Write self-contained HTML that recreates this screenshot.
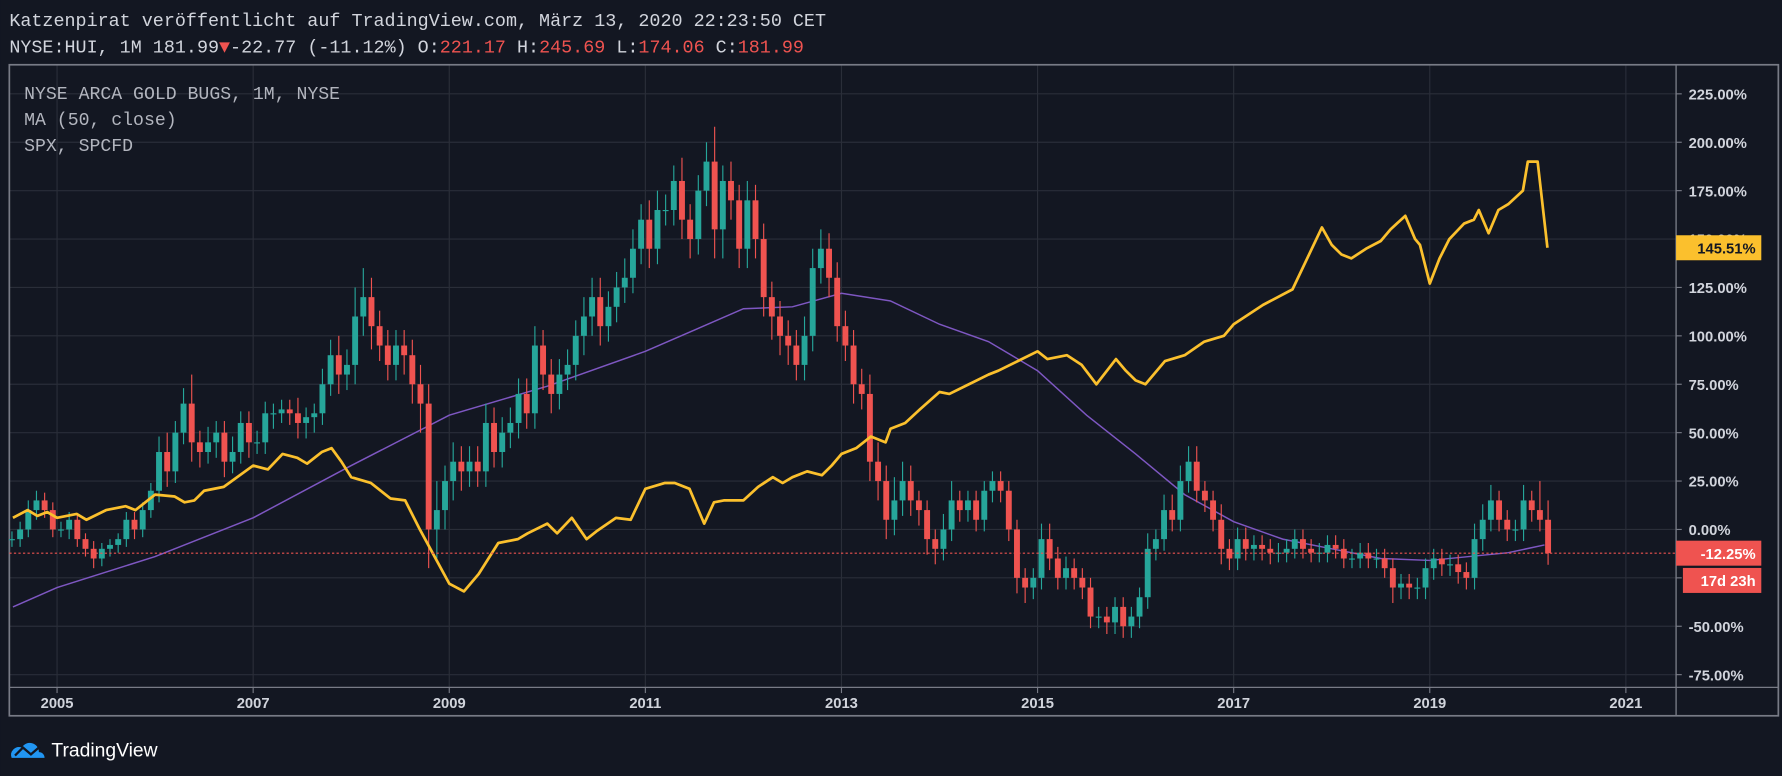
<!DOCTYPE html>
<html><head><meta charset="utf-8">
<style>
html,body{margin:0;padding:0;background:#131722;width:1782px;height:776px;overflow:hidden}
svg{display:block}
text{font-family:"Liberation Sans",sans-serif}
.mono{font-family:"Liberation Mono","DejaVu Sans Mono",monospace}
</style></head>
<body>
<svg id="chart" width="1782" height="776" viewBox="0 0 1568 683" xmlns="http://www.w3.org/2000/svg">
<rect x="0" y="0" width="1568" height="683" fill="#131722"/>
<g id="grid"></g>
<g id="marks"></g>
<text class="mono" x="8" y="23" font-size="16.2" fill="#d1d4dc">Katzenpirat veröffentlicht auf TradingView.com, März 13, 2020 22:23:50 CET</text>
<text class="mono" x="8" y="46" font-size="16.2" fill="#d1d4dc">NYSE:HUI, 1M 181.99<tspan fill="#ef5350">▼</tspan>-22.77 (-11.12%) O:<tspan fill="#ef5350">221.17</tspan> H:<tspan fill="#ef5350">245.69</tspan> L:<tspan fill="#ef5350">174.06</tspan> C:<tspan fill="#ef5350">181.99</tspan></text>
<text class="mono" x="21" y="87" font-size="16" fill="#b2b5be">NYSE ARCA GOLD BUGS, 1M, NYSE</text>
<text class="mono" x="21" y="110" font-size="16" fill="#b2b5be">MA (50, close)</text>
<text class="mono" x="21" y="133" font-size="16" fill="#b2b5be">SPX, SPCFD</text>
<g>
<path d="M10 667 a7 7 0 0 1 9 -9 a8 8 0 0 1 15 4 a5 5 0 0 1 5 5 z" fill="#2196f3"/>
<polyline points="13,665 20,658 27,664 35,657" fill="none" stroke="#131722" stroke-width="2"/>
<text x="45" y="666" font-size="17" fill="#ffffff">TradingView</text>
</g>
</svg>
<script>
const yearTicks=[2005,2007,2009,2011,2013,2015,2017,2019,2021];
const pctTicks=[225,200,175,150,125,100,75,50,25,0,-25,-50,-75];
const startYear=2004.5;
const closes=[
-5,0,10,15,10,0,
0,5,-5,-10,-15,-10,-8,-5,5,0,10,20,
40,30,50,65,45,40,45,50,35,40,55,45,
45,60,60,62,60,55,58,60,75,90,80,85,
110,120,105,95,85,95,90,75,65,0,10,25,
35,30,35,30,55,40,50,55,70,60,95,80,
70,80,85,100,110,120,105,115,125,130,145,160,
145,165,165,180,160,150,175,190,155,180,170,145,
170,150,120,110,100,95,85,100,135,145,130,105,
95,75,70,35,25,5,15,25,15,10,-5,-10,
0,15,10,15,5,20,25,20,0,-25,-30,-25,
-5,-15,-25,-20,-25,-30,-45,-45,-48,-40,-50,-45,
-35,-10,-5,10,5,25,35,20,15,5,-10,-15,
-5,-10,-8,-10,-12,-12,-10,-5,-10,-12,-12,-8,
-10,-15,-15,-12,-15,-15,-20,-30,-28,-30,-30,-20,
-15,-18,-18,-22,-25,-5,5,15,5,0,0,15,
10,5,-12.25];
const wickUp=[
4,4,5,5,4,4,
4,4,3,3,4,3,3,3,4,4,4,4,
8,10,6,8,15,6,8,6,6,8,6,6,
6,6,5,5,5,8,5,5,8,8,10,8,
15,15,10,8,8,8,8,8,10,10,15,8,
10,8,8,8,10,8,8,8,8,8,10,8,
8,8,8,8,10,10,10,8,8,10,10,8,
10,10,8,8,12,8,8,10,18,8,10,8,
10,8,8,8,8,8,8,10,10,10,8,8,
8,8,8,10,10,8,12,10,8,5,5,5,
8,10,5,5,5,5,5,5,5,5,5,5,
8,8,6,6,5,5,5,5,5,5,5,5,
5,8,5,8,8,8,8,8,5,5,8,5,
6,6,5,5,5,5,5,5,5,5,5,5,
5,5,5,5,5,5,5,5,5,5,5,5,
5,5,5,5,5,8,8,8,5,5,5,8,
5,15,10];
const wickDn=[
4,4,4,5,4,4,
4,5,4,4,5,4,4,4,4,5,4,4,
6,8,6,6,10,8,6,8,8,6,6,8,
6,6,8,5,6,8,8,8,6,6,10,8,
10,10,12,8,8,8,10,10,15,20,15,10,
10,10,8,8,8,8,8,8,8,8,8,8,
10,8,8,8,10,10,10,8,8,8,8,8,
10,8,8,8,10,10,8,8,15,15,10,10,
10,10,10,12,10,10,8,8,8,8,10,8,
8,10,8,10,10,10,8,8,8,8,8,8,
6,6,6,6,6,6,6,6,6,8,8,6,
6,6,6,6,6,6,6,6,6,6,6,6,
6,6,6,6,6,6,6,6,6,6,8,6,
6,6,6,6,6,5,5,5,5,5,5,5,
5,5,5,5,5,5,5,8,6,6,6,6,
6,6,6,6,6,6,6,6,6,6,6,6,
6,6,6];
const maT=[2004.55,2005,2006,2007,2008,2009,2010,2011,2011.5,2012,2012.5,2013,2013.5,2014,2014.5,2015,2015.5,2016,2016.5,2017,2017.5,2018,2018.5,2019,2019.4,2019.8,2020.17];
const maV=[-40,-30,-14,6,33,59,74,92,103,114,115,122,118,106,97,82,59,39,18,4,-5,-10,-15,-16,-14,-12,-8];
const spxT=[2004.55,2004.7,2004.8,2004.9,2005,2005.2,2005.3,2005.5,2005.7,2005.8,2006,2006.2,2006.3,2006.4,2006.5,2006.7,2007,2007.15,2007.3,2007.45,2007.55,2007.7,2007.8,2007.9,2008,2008.2,2008.3,2008.4,2008.55,2008.7,2008.85,2009,2009.15,2009.3,2009.5,2009.7,2009.8,2010,2010.1,2010.25,2010.4,2010.5,2010.7,2010.85,2011,2011.2,2011.3,2011.45,2011.6,2011.7,2011.8,2012,2012.15,2012.3,2012.4,2012.5,2012.65,2012.8,2012.9,2013,2013.15,2013.3,2013.45,2013.5,2013.65,2013.8,2014,2014.1,2014.3,2014.5,2014.6,2014.8,2015,2015.1,2015.3,2015.45,2015.6,2015.8,2015.9,2016,2016.1,2016.3,2016.5,2016.7,2016.9,2017,2017.3,2017.6,2017.9,2018,2018.1,2018.2,2018.35,2018.5,2018.6,2018.75,2018.85,2018.9,2019,2019.1,2019.2,2019.35,2019.45,2019.5,2019.6,2019.7,2019.8,2019.95,2020,2020.1,2020.2];
const spxV=[6,10,7,9,6,8,5,10,12,10,18,17,14,15,20,22,33,31,39,37,34,40,42,35,27,24,20,16,15,0,-14,-28,-32,-23,-7,-5,-2,3,-2,6,-5,-1,6,5,21,24,24,21,3,14,15,15,22,27,24,27,30,28,33,39,42,48,45,52,55,62,71,70,75,80,82,87,92,88,90,85,75,88,82,77,75,87,90,97,100,106,116,124,156,147,142,140,145,149,155,162,150,147,127,140,150,158,160,165,153,165,168,175,190,190,145.5];

const L=8,R=1475,T=57,B=605;
const x=t=>50+(t-2005)*86.3;
const y=v=>466-v*(42.6/25);
const NS="http://www.w3.org/2000/svg";
function mk(tag,attrs,parent){const e=document.createElementNS(NS,tag);for(const k in attrs)e.setAttribute(k,attrs[k]);parent.appendChild(e);return e;}
const svg=document.getElementById('chart');
const grid=document.getElementById('grid');
const marks=document.getElementById('marks');
pctTicks.forEach(p=>{
  const l=mk('line',{x1:L,x2:R,y1:y(p),y2:y(p),stroke:'#2a2e39','stroke-width':1},grid);
  
  
  mk('line',{x1:R,x2:R+5,y1:y(p),y2:y(p),stroke:'#787b86'},grid);
  const tx=mk('text',{x:R+11,y:y(p)+5,'font-size':13,fill:'#d1d4dc','font-weight':'bold'},grid);
  tx.textContent=p.toFixed(2)+'%';
  
  
});
yearTicks.forEach(yr=>{
  const l=mk('line',{x1:x(yr),x2:x(yr),y1:T,y2:B,stroke:'#2a2e39'},grid);
  
  
  mk('line',{x1:x(yr),x2:x(yr),y1:B,y2:B+5,stroke:'#787b86'},grid);
  const tx=mk('text',{x:x(yr),y:B+18,'font-size':13,fill:'#d1d4dc','font-weight':'bold','text-anchor':'middle'},grid);
  tx.textContent=yr;
  
  
});
const fr=mk('rect',{x:L,y:T,width:1565-L,height:630-T,fill:'none',stroke:'#787b86','stroke-width':1.5},grid);


mk('line',{x1:R,x2:R,y1:T,y2:630,stroke:'#787b86','stroke-width':1.2},grid);
mk('line',{x1:L,x2:1565,y1:B,y2:B,stroke:'#787b86','stroke-width':1.2},grid);
const mp=mk('polyline',{points:maT.map((t,i)=>x(t)+','+y(maV[i])).join(' '),fill:'none',stroke:'#7e57c2','stroke-width':1.3},marks);


closes.forEach((c,i)=>{
  const o=i===0?c:closes[i-1];
  const t=startYear+i/12+0.04;
  const cx=x(t);
  const up=c>=o;
  const col=up?'#26a69a':'#ef5350';
  const hi=Math.max(o,c)+wickUp[i], lo=Math.min(o,c)-wickDn[i];
  const g=mk('g',{},marks);
  
  
  mk('line',{x1:cx,x2:cx,y1:y(hi),y2:y(lo),stroke:col,'stroke-width':1},g);
  const top=y(Math.max(o,c)),bot=y(Math.min(o,c));
  mk('rect',{x:cx-2.6,y:top,width:5.2,height:Math.max(1,bot-top),fill:col},g);
});
const sp=mk('polyline',{points:spxT.map((t,i)=>x(t)+','+y(spxV[i])).join(' '),fill:'none',stroke:'#fbc02d','stroke-width':2.4,'stroke-linejoin':'round'},marks);


const last=closes[closes.length-1];
const dl=mk('line',{x1:L,x2:R,y1:y(last),y2:y(last),stroke:'#ef5350','stroke-dasharray':'2,2'},marks);


function badge(name,yc,txt,bg,fg,x0){
  const g=mk('g',{},svg);
  
  
  mk('rect',{x:x0,y:yc-11,width:1550-x0,height:22,fill:bg},g);
  const t=mk('text',{x:1545,y:yc+5,'font-size':13,fill:fg,'font-weight':'bold','text-anchor':'end'},g);
  t.textContent=txt;
}
const spxLast=spxV[spxV.length-1];
badge('spx-price-label',y(spxLast),'145.51%','#fbc02d','#131722',R);
badge('last-price-label',y(last),last.toFixed(2)+'%','#ef5350','#ffffff',R);
badge('countdown-label',y(last)+24,'17d 23h','#ef5350','#ffffff',R+6);
</script>
</body></html>
